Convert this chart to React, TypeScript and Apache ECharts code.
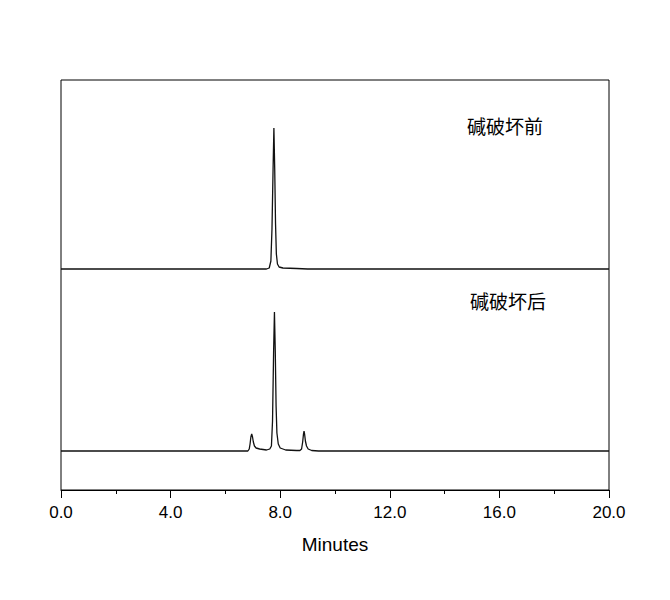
import React, { useEffect, useRef } from "react";
import * as echarts from "echarts";

// Chromatogram before alkaline degradation (time in minutes, response in arbitrary units)
const beforeTime = [0, 7.5, 7.6, 7.66, 7.7, 7.74, 7.77, 7.8, 7.83, 7.86, 7.9, 7.96, 8.1, 8.6, 9.0, 20];
const beforeSignal = [0, 0, 1, 8, 40, 100, 141, 100, 45, 15, 5, 2, 1, 0.5, 0, 0];

// Chromatogram after alkaline degradation
const afterTime = [0, 6.82, 6.87, 6.9, 6.93, 6.96, 6.99, 7.02, 7.06, 7.12, 7.25, 7.5, 7.62, 7.68, 7.72, 7.76, 7.79, 7.82, 7.85, 7.88, 7.93, 8.0, 8.2, 8.6, 8.72, 8.78, 8.82, 8.85, 8.87, 8.89, 8.92, 8.96, 9.02, 9.15, 9.4, 20];
const afterSignal = [0, 0, 2, 7, 14, 17, 14, 9, 5, 3, 2, 1, 2, 5, 30, 100, 139, 100, 45, 18, 7, 3, 1, 0.5, 0.5, 2, 9, 17, 20, 17, 10, 5, 2, 0.5, 0, 0];

const xTicks = [0, 4, 8, 12, 16, 20];
const traceLabels = ["碱破坏前", "碱破坏后"];

export default function App() {
  const ref = useRef<HTMLDivElement>(null);
  useEffect(() => {
    if (!ref.current) return;
    const chart = echarts.init(ref.current, null, { renderer: "svg" });
    const before = beforeTime.map((t, i) => [t, beforeSignal[i]]);
    const after = afterTime.map((t, i) => [t, afterSignal[i]]);
    chart.setOption({
      animation: false,
      backgroundColor: "#fff",
      grid: {
        left: 61,
        right: 61,
        top: 80,
        bottom: 110,
        show: true,
        borderColor: "#000",
        borderWidth: 1,
        backgroundColor: "transparent",
      },
      xAxis: {
        type: "value",
        min: xTicks[0],
        max: xTicks[xTicks.length - 1],
        interval: 4,
        name: "Minutes",
        nameLocation: "middle",
        nameGap: 45,
        nameTextStyle: { fontFamily: "Liberation Sans, Arial", fontSize: 19, color: "#000" },
        axisLine: { show: true, onZero: false, lineStyle: { color: "#000", width: 1 } },
        axisTick: { show: true, inside: false, length: 8, lineStyle: { color: "#000" } },
        minorTick: { show: true, splitNumber: 2, length: 4, lineStyle: { color: "#000" } },
        splitLine: { show: false },
        axisLabel: {
          margin: 14,
          fontFamily: "Liberation Sans, Arial",
          fontSize: 17,
          color: "#000",
          formatter: (v: number) => v.toFixed(1),
        },
      },
      yAxis: [
        { type: "value", min: -221, max: 189, show: false, splitLine: { show: false } },
        { type: "value", min: -39, max: 371, show: false, splitLine: { show: false } },
      ],
      graphic: [
        {
          type: "text",
          left: 467,
          top: 116,
          style: { text: traceLabels[0], font: "19px 'Noto Sans CJK SC'", fill: "#000" },
        },
        {
          type: "text",
          left: 470,
          top: 291,
          style: { text: traceLabels[1], font: "19px 'Noto Sans CJK SC'", fill: "#000" },
        },
      ],
      series: [
        {
          type: "line",
          yAxisIndex: 0,
          data: before,
          showSymbol: false,
          lineStyle: { color: "#111", width: 1.3 },
        },
        {
          type: "line",
          yAxisIndex: 1,
          data: after,
          showSymbol: false,
          lineStyle: { color: "#111", width: 1.3 },
        },
      ],
    });
    return () => chart.dispose();
  }, []);
  return (
    <div
      ref={ref}
      style={{ position: "fixed", left: 0, top: 0, width: 670, height: 600, background: "#fff" }}
    />
  );
}
